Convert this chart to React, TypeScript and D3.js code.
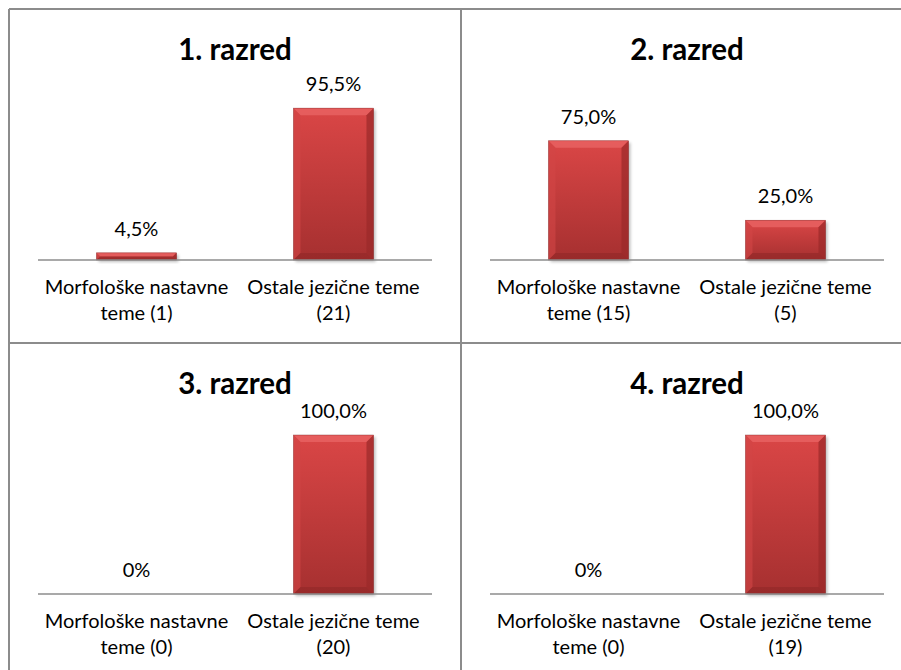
import React from "react";
import * as d3 from "d3";

const titles = ["1. razred", "2. razred", "3. razred", "4. razred"];
const categoryLine1 = ["Morfološke nastavne", "Ostale jezične teme"];
const counts = [
  [1, 21],
  [15, 5],
  [0, 20],
  [0, 19],
];
const percents = [
  [4.5, 95.5],
  [75.0, 25.0],
  [0, 100.0],
  [0, 100.0],
];
const valueLabels = [
  ["4,5%", "95,5%"],
  ["75,0%", "25,0%"],
  ["0%", "100,0%"],
  ["0%", "100,0%"],
];

const W = 901;
const H = 670;
const PW = 452;
const PH = 334;
const OX = 9;
const OY = 9;
const FONT = "Lato, 'Noto Sans', sans-serif";

function Bar({ x, y, w, h }: { x: number; y: number; w: number; h: number }) {
  if (h <= 0) return null;
  const b = Math.min(7, h / 2, w / 2);
  const x1 = x + w;
  const y1 = y + h;
  return (
    <g>
      <rect x={x + 2} y={y + 2} width={w} height={h} fill="#000" opacity={0.25} filter="url(#shadowBlur)" />
      <rect x={x} y={y} width={w} height={h} fill="url(#barGrad)" />
      <polygon points={`${x},${y} ${x1},${y} ${x1 - b},${y + b} ${x + b},${y + b}`} fill="#e86262" opacity={0.85} />
      <polygon points={`${x},${y} ${x + b},${y + b} ${x + b},${y1 - b} ${x},${y1}`} fill="#d24646" opacity={0.6} />
      <polygon points={`${x1},${y} ${x1},${y1} ${x1 - b},${y1 - b} ${x1 - b},${y + b}`} fill="#9a2a2a" opacity={0.7} />
      <polygon points={`${x},${y1} ${x1},${y1} ${x1 - b},${y1 - b} ${x + b},${y1 - b}`} fill="#8e2626" opacity={0.55} />
      <rect x={x} y={y} width={w} height={h} fill="none" stroke="#7a1f1f" strokeWidth={0.6} opacity={0.6} />
    </g>
  );
}

function Panel({ idx }: { idx: number }) {
  const col = idx % 2;
  const row = Math.floor(idx / 2);
  const px = OX + col * PW;
  const py = OY + row * PH;
  const axisY = 251;
  const x = d3.scaleBand<number>().domain([0, 1]).range([29, 423]).padding(0);
  const y = d3.scaleLinear().domain([0, 100]).range([axisY, axisY - 159]);
  const barW = x.bandwidth() * 0.406;
  return (
    <g transform={`translate(${px},${py})`}>
      <text x={226} y={51} textAnchor="middle" fontFamily={FONT} fontWeight="bold" fontSize={29.5} fill="#000">
        {titles[idx]}
      </text>
      {percents[idx].map((v, i) => {
        const cx = (x(i) as number) + x.bandwidth() / 2;
        const top = y(v);
        return (
          <g key={i}>
            <Bar x={cx - barW / 2} y={top} w={barW} h={axisY - top} />
            <text x={cx} y={top - 17} textAnchor="middle" fontFamily={FONT} fontSize={20} fill="#000">
              {valueLabels[idx][i]}
            </text>
          </g>
        );
      })}
      <line x1={29} x2={423} y1={axisY} y2={axisY} stroke="#8c8c8c" strokeWidth={1.5} />
      {categoryLine1.map((c, i) => {
        const cx = (x(i) as number) + x.bandwidth() / 2;
        const line2 = i === 0 ? `teme (${counts[idx][i]})` : `(${counts[idx][i]})`;
        return (
          <text key={i} textAnchor="middle" fontFamily={FONT} fontSize={20} fill="#000">
            <tspan x={cx} y={axisY + 34}>{c}</tspan>
            <tspan x={cx} y={axisY + 60}>{line2}</tspan>
          </text>
        );
      })}
    </g>
  );
}

export default function App() {
  return (
    <svg
      width={W}
      height={H}
      viewBox={`0 0 ${W} ${H}`}
      style={{ position: "absolute", left: 0, top: 0, background: "#fff" }}
    >
      <defs>
        <linearGradient id="barGrad" x1="0" y1="0" x2="0" y2="1">
          <stop offset="0%" stopColor="#da4646" />
          <stop offset="100%" stopColor="#a63030" />
        </linearGradient>
        <filter id="shadowBlur" x="-20%" y="-20%" width="140%" height="140%">
          <feGaussianBlur stdDeviation="1.5" />
        </filter>
      </defs>
      <rect x={0} y={0} width={W} height={H} fill="#fff" />
      {[0, 1, 2, 3].map((i) => (
        <Panel key={i} idx={i} />
      ))}
      <line x1={OX} x2={W} y1={OY} y2={OY} stroke="#8c8c8c" strokeWidth={2} />
      <line x1={OX} x2={OX} y1={OY} y2={H} stroke="#8c8c8c" strokeWidth={2} />
      <line x1={OX + PW} x2={OX + PW} y1={OY} y2={H} stroke="#8c8c8c" strokeWidth={2} />
      <line x1={OX} x2={W} y1={OY + PH} y2={OY + PH} stroke="#8c8c8c" strokeWidth={2} />
    </svg>
  );
}
